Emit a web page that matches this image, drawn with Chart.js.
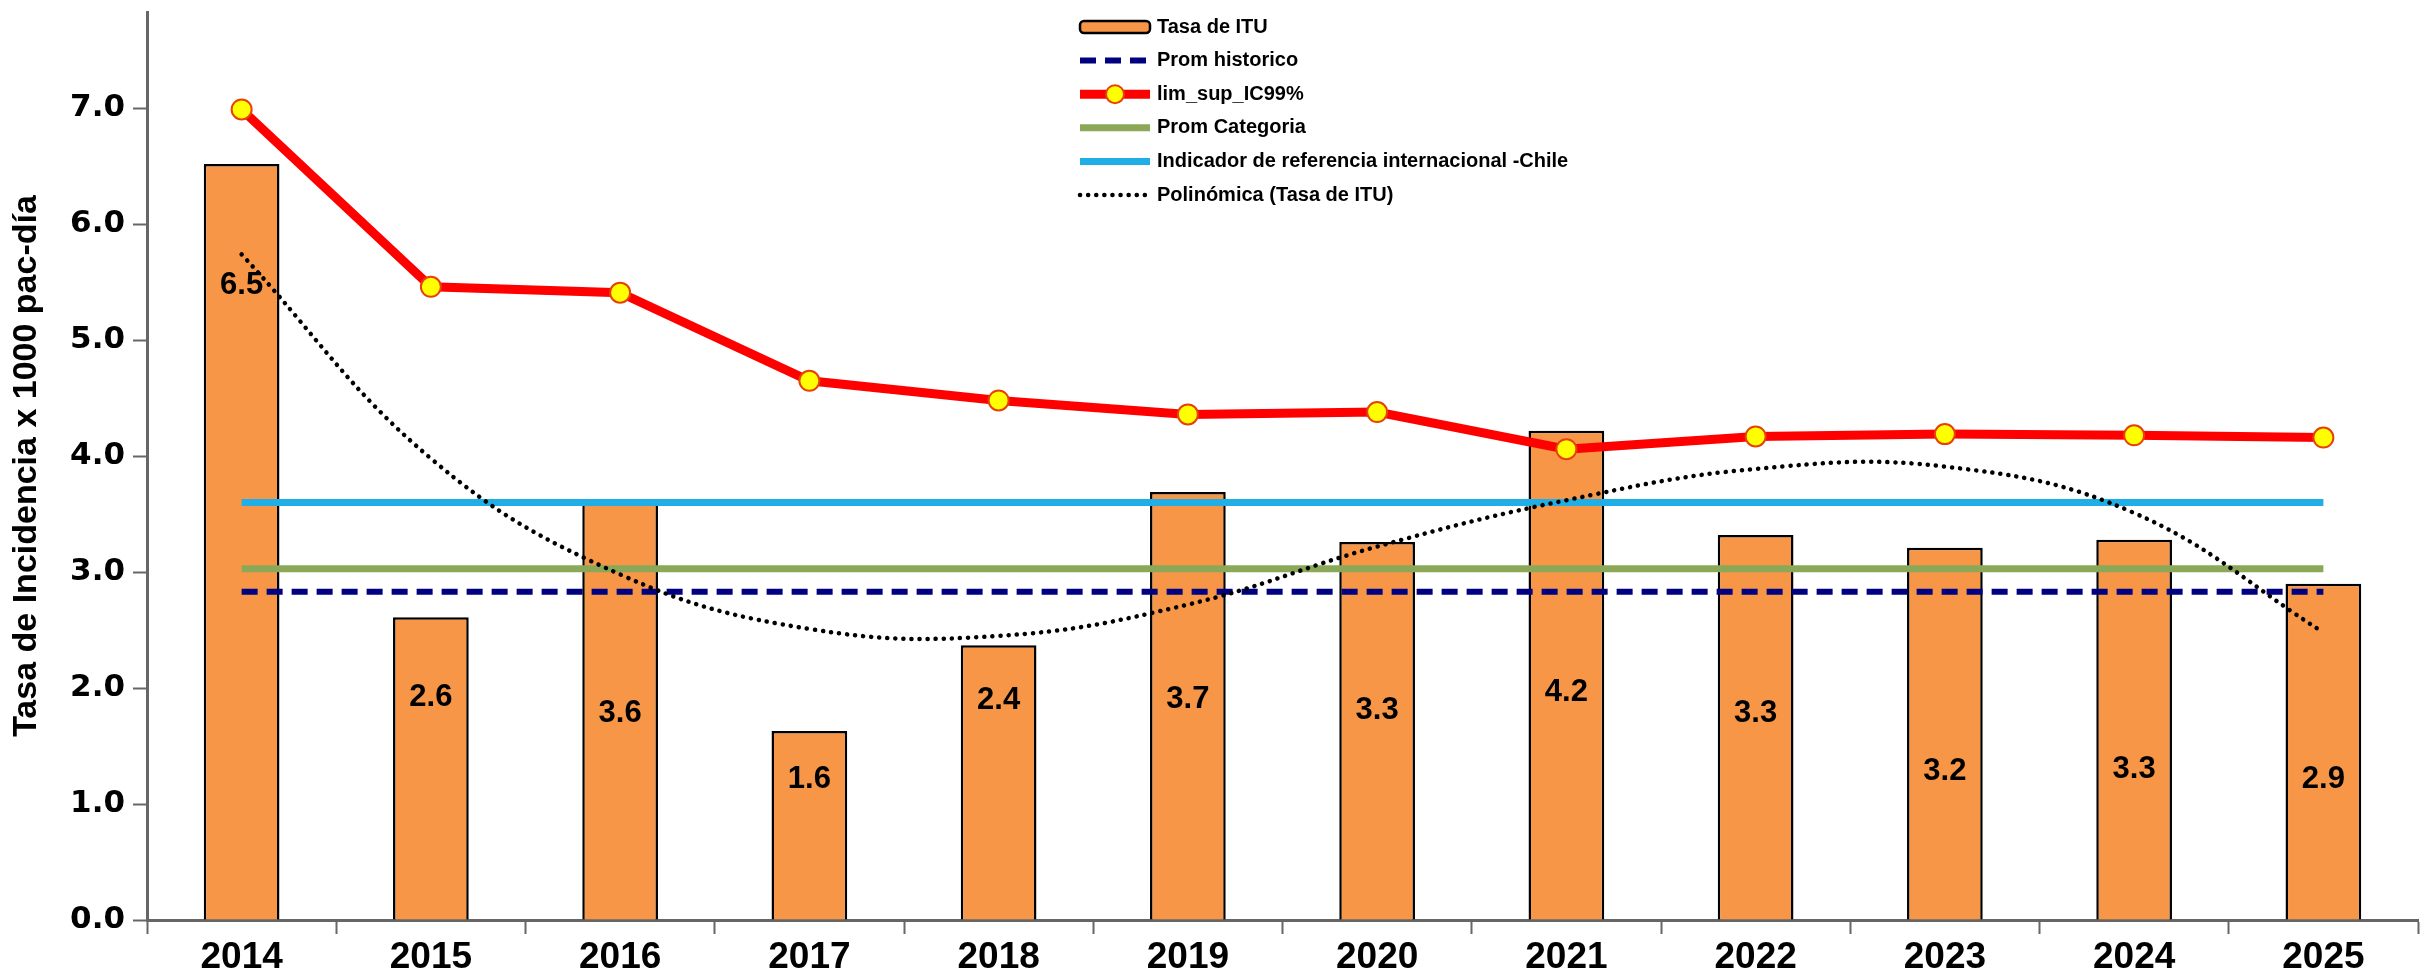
<!DOCTYPE html>
<html><head><meta charset="utf-8">
<script src="https://cdn.jsdelivr.net/npm/chart.js@4.4.1/dist/chart.umd.min.js"></script>
<style>html,body{margin:0;padding:0;background:#fff;overflow:hidden}
#wrap{position:relative;width:2430px;height:970px}</style>
</head><body><div id="wrap"><canvas id="c" width="2430" height="970"></canvas></div>
<script>
const years = ['2014','2015','2016','2017','2018','2019','2020','2021','2022','2023','2024','2025'];
const tasaITU = [6.52, 2.61, 3.62, 1.63, 2.37, 3.69, 3.26, 4.22, 3.32, 3.21, 3.28, 2.90];
const tasaLabels = ['6.5','2.6','3.6','1.6','2.4','3.7','3.3','4.2','3.3','3.2','3.3','2.9'];
const promHistorico = [2.83, 2.83, 2.83, 2.83, 2.83, 2.83, 2.83, 2.83, 2.83, 2.83, 2.83, 2.83];
const limSupIC99 = [6.99, 5.46, 5.41, 4.65, 4.48, 4.36, 4.38, 4.06, 4.17, 4.19, 4.18, 4.16];
const promCategoria = [3.03, 3.03, 3.03, 3.03, 3.03, 3.03, 3.03, 3.03, 3.03, 3.03, 3.03, 3.03];
const indicadorChile = [3.6, 3.6, 3.6, 3.6, 3.6, 3.6, 3.6, 3.6, 3.6, 3.6, 3.6, 3.6];
const polinomica = [5.74, 3.98, 2.98, 2.51, 2.45, 2.72, 3.22, 3.62, 3.89, 3.91, 3.51, 2.48];
const yTicks = [0, 1, 2, 3, 4, 5, 6, 7];

const NARROW = '"Liberation Sans Narrow", "Liberation Sans", Arial, sans-serif';

// vertical placement (in axis units) of the in-bar value labels, as in the original
const labelAt = [5.47, 1.92, 1.78, 1.21, 1.89, 1.90, 1.81, 1.96, 1.78, 1.28, 1.30, 1.21];

const barLabelPlugin = {
  id: 'barLabels',
  afterDatasetDraw(chart, args) {
    if (args.index !== 0) return;
    const ctx = chart.ctx, y = chart.scales.y;
    ctx.save();
    ctx.font = 'bold 31px ' + NARROW;
    ctx.fillStyle = '#000';
    ctx.textAlign = 'center';
    ctx.textBaseline = 'middle';
    args.meta.data.forEach((bar, i) => {
      ctx.fillText(tasaLabels[i], bar.x, y.getPixelForValue(labelAt[i]));
    });
    ctx.restore();
  }
};

const legendPlugin = {
  id: 'customLegend',
  afterDraw(chart) {
    const ctx = chart.ctx;
    const x0 = 1080, x1 = 1150, tx = 1157, y0 = 27, step = 33.6;
    ctx.save();
    ctx.font = 'bold 20px ' + NARROW;
    ctx.textBaseline = 'middle';
    ctx.textAlign = 'left';
    chart.data.datasets.forEach((ds, k) => {
      const yy = y0 + k * step;
      if (ds.type === 'bar') {
        ctx.fillStyle = ds.backgroundColor;
        ctx.strokeStyle = '#000';
        ctx.lineWidth = 2.5;
        ctx.beginPath();
        if (ctx.roundRect) ctx.roundRect(x0, yy - 6, x1 - x0, 12, 4); else ctx.rect(x0, yy - 6, x1 - x0, 12);
        ctx.fill(); ctx.stroke();
      } else {
        ctx.strokeStyle = ds.borderColor;
        ctx.lineWidth = ds.borderWidth;
        ctx.setLineDash(ds.borderDash || []);
        ctx.lineCap = ds.borderCapStyle || 'butt';
        ctx.beginPath(); ctx.moveTo(x0, yy); ctx.lineTo(x1, yy); ctx.stroke();
        ctx.setLineDash([]);
        if (ds.pointRadius > 0) {
          ctx.beginPath();
          ctx.arc((x0 + x1) / 2, yy, ds.pointRadius - 1, 0, Math.PI * 2);
          ctx.fillStyle = ds.pointBackgroundColor; ctx.fill();
          ctx.lineWidth = 2; ctx.strokeStyle = ds.pointBorderColor; ctx.stroke();
        }
      }
      ctx.fillStyle = '#000';
      ctx.fillText(ds.label, tx, yy);
    });
    ctx.restore();
  }
};

new Chart(document.getElementById('c'), {
  data: {
    labels: years,
    datasets: [
      { type: 'bar', label: 'Tasa de ITU', data: tasaITU, backgroundColor: '#F79646',
        borderColor: '#000', borderWidth: 2.5, barPercentage: 0.4, categoryPercentage: 1, order: 10 },
      { type: 'line', label: 'Prom historico', data: promHistorico, borderColor: '#000080',
        borderWidth: 6, borderDash: [16, 9], pointRadius: 0, order: 4 },
      { type: 'line', label: 'lim_sup_IC99%', data: limSupIC99, borderColor: '#FF0000',
        borderWidth: 9, pointRadius: 10, pointBackgroundColor: '#FFFF00', pointBorderColor: '#E8400A',
        pointBorderWidth: 2, order: 1 },
      { type: 'line', label: 'Prom Categoria', data: promCategoria, borderColor: '#8AA857',
        borderWidth: 7, pointRadius: 0, order: 5 },
      { type: 'line', label: 'Indicador de referencia internacional -Chile', data: indicadorChile,
        borderColor: '#1FAEE5', borderWidth: 7, pointRadius: 0, order: 6 },
      { type: 'line', label: 'Polinómica (Tasa de ITU)', data: polinomica, borderColor: '#000',
        borderWidth: 4.5, borderDash: [0.1, 8], borderCapStyle: 'round', pointRadius: 0, tension: 0.4, order: 0 }
    ]
  },
  options: {
    responsive: false, animation: false, devicePixelRatio: 1,
    layout: { padding: { top: 8, left: 0, right: 0, bottom: 0 } },
    plugins: { legend: { display: false }, tooltip: { enabled: false } },
    scales: {
      x: {
        type: 'category', offset: true,
        grid: { offset: true, drawOnChartArea: false, drawTicks: true, tickLength: 14, tickColor: '#666', tickWidth: 2 },
        border: { color: '#666', width: 3 },
        ticks: { color: '#000', font: { family: NARROW, size: 37, weight: 'bold' }, padding: 2 },
        afterFit(s) { s.height = 50; s.paddingLeft = 0; s.paddingRight = 0; }
      },
      y: {
        min: 0, max: 7.83,
        afterBuildTicks(s) { s.ticks = yTicks.map(v => ({ value: v })); },
        grid: { drawOnChartArea: false, drawTicks: true, tickLength: 14, tickColor: '#666', tickWidth: 2 },
        border: { color: '#666', width: 3 },
        ticks: { color: '#000', font: { family: '"DejaVu Sans", sans-serif', size: 31, weight: 'bold' }, padding: 8,
          callback: v => Number(v).toFixed(1) },
        title: { display: true, text: 'Tasa de Incidencia x 1000 pac-día', color: '#000',
          font: { family: NARROW, size: 34, weight: 'bold' }, padding: { top: 6, bottom: 0 } },
        afterFit(s) { s.width = 147; s.paddingTop = 0; s.paddingBottom = 0; }
      }
    }
  },
  plugins: [barLabelPlugin, legendPlugin]
});
</script></body></html>
